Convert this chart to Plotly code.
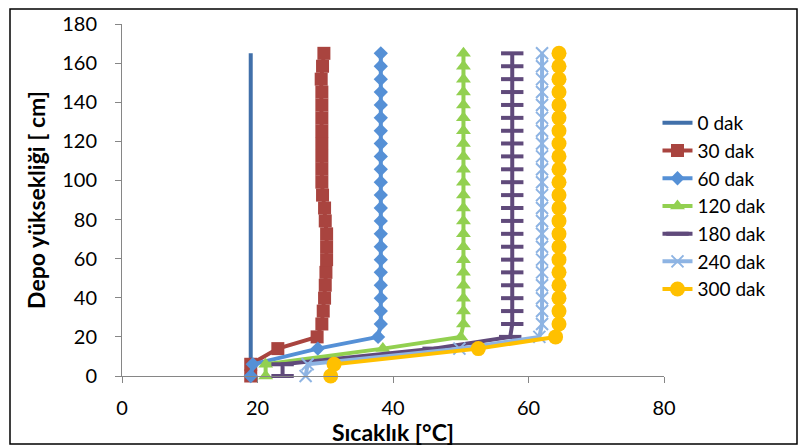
import plotly.graph_objects as go

# Sensor heights [cm]
heights = [0, 6, 14, 20, 26.6, 33.2, 39.8, 46.4, 53.0, 59.5, 66.1, 72.7, 79.3,
           85.9, 92.5, 99.1, 105.7, 112.3, 118.9, 125.4, 132.0, 138.6, 145.2,
           151.8, 158.4, 165.0]

t_0 = [19.0] * 26
t_30 = [19.0, 19.0, 23.0, 28.8, 29.5, 29.7, 29.9, 30.0, 30.1, 30.2, 30.2, 30.2,
        30.0, 29.9, 29.6, 29.5, 29.5, 29.5, 29.5, 29.5, 29.5, 29.5, 29.5, 29.4,
        29.6, 29.8]
t_60 = [19.0, 19.3, 28.9, 37.8] + [38.2] * 22
t_120 = [21.2, 21.2, 38.5, 50.0] + [50.4] * 22
t_180 = [23.7, 23.7, 46.0, 57.3] + [57.6] * 22
t_240 = [27.1, 27.4, 49.8, 61.6] + [62.0] * 22
t_300 = [30.8, 31.3, 52.6, 64.0] + [64.5] * 22

names = ["0 dak", "30 dak", "60 dak", "120 dak", "180 dak", "240 dak", "300 dak"]
x_ticks = [0, 20, 40, 60, 80]
y_ticks = [0, 20, 40, 60, 80, 100, 120, 140, 160, 180]

series = [t_0, t_30, t_60, t_120, t_180, t_240, t_300]
colors = ["#4170AA", "#A9443F", "#5590D6", "#92D050", "#604A7B", "#8EB4E3", "#FFC000"]
markers = [
    dict(size=1, opacity=0),
    dict(symbol="square", size=13),
    dict(symbol="diamond", size=11),
    dict(symbol="triangle-up", size=13),
    dict(symbol="line-ew", size=16, line=dict(width=4)),
    dict(symbol="x-thin", size=12, line=dict(width=2)),
    dict(symbol="circle", size=15),
]

fig = go.Figure()
for name, vals, col, mk in zip(names, series, colors, markers):
    m = dict(mk)
    m["color"] = col
    if "line" in m:
        m["line"] = dict(m["line"], color=col)
    fig.add_trace(go.Scatter(
        x=vals, y=heights, name=name,
        mode="lines" if name == "0 dak" else "lines+markers",
        line=dict(color=col, width=4),
        marker=m, cliponaxis=False,
    ))

fig.update_layout(
    width=800, height=446,
    margin=dict(l=122, r=136, t=24, b=70),
    paper_bgcolor="white", plot_bgcolor="white",
    font=dict(family="Lato", color="black"),
    showlegend=True,
    legend=dict(x=0.988, xanchor="left", y=0.483, yanchor="middle",
                font=dict(size=19), bgcolor="rgba(0,0,0,0)"),
    xaxis=dict(range=[0, 80], tickvals=x_ticks, showline=True, linecolor="#868686",
               linewidth=1, ticks="outside", ticklen=6, tickcolor="#868686",
               showgrid=False, zeroline=False, tickfont=dict(size=20),
               ticklabelstandoff=8, automargin=False,
               title=dict(text="<b>Sıcaklık [°C]</b>", font=dict(size=23), standoff=0)),
    yaxis=dict(range=[0, 180], tickvals=y_ticks, showline=True, linecolor="#868686",
               linewidth=1, ticks="outside", ticklen=6, tickcolor="#868686",
               showgrid=False, zeroline=False, tickfont=dict(size=20),
               ticklabelstandoff=14, automargin=False,
               title=dict(text="<b>Depo yüksekliği [ cm]</b>", font=dict(size=23), standoff=10)),
)

# outer chart border
fig.add_shape(type="rect", xref="paper", yref="paper",
              x0=(10 - 122) / 542, x1=(797 - 122) / 542,
              y0=(376 - 444) / 352, y1=(376 - 9) / 352,
              line=dict(color="black", width=1.5), fillcolor="rgba(0,0,0,0)", layer="below")

fig.write_html("out.html")
